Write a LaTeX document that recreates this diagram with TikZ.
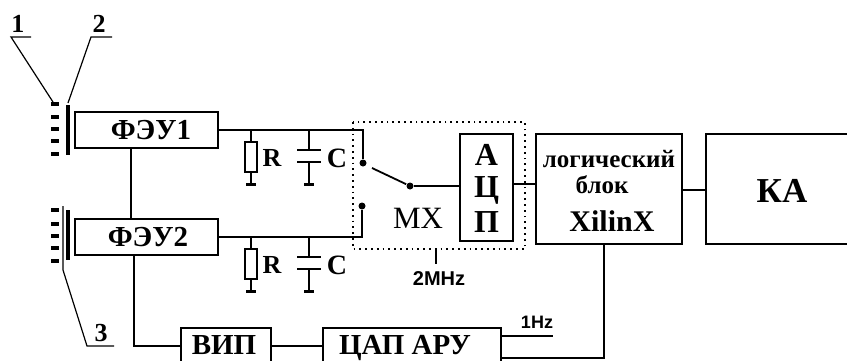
\documentclass[tikz,border=0pt]{standalone}
\usepackage{fontspec}
\setmainfont{Liberation Serif}
\newfontfamily\labelsans{Liberation Sans}
\usetikzlibrary{positioning}
\newcommand{\px}[1]{\fontsize{#1pt}{#1pt}\selectfont\bfseries}
\begin{document}
\begin{tikzpicture}
        [ x=1pt, y=-1pt, line width=1.5pt,
          box node/.style = {draw=black,inner sep=0pt,anchor=center},
          text node/.style = {inner sep=0pt,anchor=center},
          base node/.style = {inner sep=0pt,anchor=base},
          resistor node/.style = {draw=black,inner sep=0pt,minimum width=12pt,minimum height=30pt},
          contact/.style = {fill=black,circle,inner sep=0pt,minimum size=7pt},
          ground/.style = {line width=3pt},
          plate/.style = {line width=4pt},
          leader/.style = {line width=1.2pt},
          frame/.style = {line width=1.8pt,dash pattern=on 1.8pt off 4pt}]
        \useasboundingbox (0,0) rectangle (847,360);
        \clip (0,0) rectangle (847,360);

        % blocks
        \node[box node,minimum width=143pt,minimum height=36pt] (feu1) at (146.5,130) {};
        \node[box node,minimum width=143pt,minimum height=36pt] (feu2) at (146.5,237) {};
        \node[text node] at (151,130) {\px{29}ФЭУ1};
        \node[text node] at (148,237) {\px{29}ФЭУ2};
        \node[box node,minimum width=90pt,minimum height=40pt] (vip) at (226,348) {};
        \node[box node,minimum width=178pt,minimum height=40pt] (dac) at (412,348) {};
        \node[base node] at (224,354) {\px{29}ВИП};
        \node[base node] at (405,354) {\px{29}ЦАП АРУ};
        \node[box node,minimum width=53pt,minimum height=107pt] (adc) at (486.5,187.5) {};
        \node[base node] at (486.5,165) {\px{32}А};
        \node[base node] at (486.5,197) {\px{32}Ц};
        \node[base node] at (486.5,232) {\px{32}П};
        \node[box node,minimum width=146pt,minimum height=110pt] (logic) at (609,189) {};
        \node[text node] at (609,159) {\px{25}логический};
        \node[text node] at (602,185) {\px{25}блок};
        \node[text node] at (612,221) {\px{30}XilinX};
        \node[box node,minimum width=150pt,minimum height=110pt] (ka) at (781,189) {};
        \node[text node] at (782,191) {\px{35}КА};

        % multiplexer
        \draw[frame] (353,122) rectangle (525,249);
        \node[text node] (mx) at (418,218) {\fontsize{31pt}{31pt}\selectfont МХ};
        \node[contact] (in1) at (363,163) {};
        \node[contact] (in2) at (362,206) {};
        \node[contact] (sw) at (410,186) {};
        \coordinate (swfree) at (372,168);
        \draw[line width=1.8pt] (swfree) -- (sw);
        \draw (sw) -- (adc.west |- sw);
        \draw (feu1.east) -- (in1 |- feu1.east) -- (in1);
        \draw (feu2.east) -- (in2 |- feu2.east) -- (in2);
        \coordinate (clktop) at (436,250);
        \coordinate (clkend) at (436,264);
        \draw (clktop) -- (clkend);
        \node[text node] at (439,279) {\labelsans\fontsize{20pt}{20pt}\selectfont\bfseries 2MHz};

        % R and C
        \foreach \name/\wire/\off in {a/feu1/0,b/feu2/107}{
            \node[resistor node] (r\name) at (251,157+\off) {};
            \node[text node] at (272,158+\off) {\px{26}R};
            \node[text node] at (337,158+\off) {\px{28}C};
            \coordinate (rtop\name) at (251,130+\off);
            \coordinate (rend\name) at (251,184+\off);
            \coordinate (ctop\name) at (309,130+\off);
            \coordinate (cupper\name) at (309,150+\off);
            \coordinate (clower\name) at (309,162+\off);
            \coordinate (cend\name) at (309,184+\off);
            \draw (rtop\name) -- (r\name) -- (rend\name);
            \draw (ctop\name) -- (cupper\name);
            \draw (clower\name) -- (cend\name);
            \draw ([xshift=-12pt]cupper\name) -- ([xshift=12pt]cupper\name);
            \draw ([xshift=-12pt]clower\name) -- ([xshift=12pt]clower\name);
            \draw[ground] ([xshift=-5pt]rend\name) -- ([xshift=5pt]rend\name);
            \draw[ground] ([xshift=-5pt]cend\name) -- ([xshift=5pt]cend\name);
        }

        % links
        \draw (131,148) -- (131,219);
        \coordinate (vipin) at (134,346);
        \draw (134,255) -- (vipin) -- (vip.west |- vipin);
        \draw (vip.east |- vipin) -- (dac.west |- vipin);
        \draw (adc.east |- 0,184) -- (logic.west |- 0,184);
        \draw (logic.east |- 0,190) -- (ka.west |- 0,190);
        \coordinate (ctlfree) at (553,336);
        \draw (dac.east |- ctlfree) -- (ctlfree);
        \node[text node] at (537,322) {\labelsans\fontsize{18pt}{18pt}\selectfont\bfseries 1Hz};
        \coordinate (ctlturn) at (604,358);
        \draw (dac.east |- ctlturn) -- (ctlturn) -- (ctlturn |- logic.south);

        % photocathodes
        \draw[plate] (68,105) -- (68,155);
        \draw[plate] (68,210) -- (68,260);
        \foreach \ypos in {104,117,129,141,154,210,224,236,248,261}{
            \draw[line width=3.5pt] (51,\ypos) -- (59,\ypos);
        }

        % numbered labels
        \node[text node] (lab1) at (18,24) {\px{26}1};
        \node[text node] (lab2) at (99,24) {\px{26}2};
        \node[text node] (lab3) at (101,333) {\px{26}3};
        \coordinate (lead1) at (11,37);
        \coordinate (lead2) at (91,37);
        \coordinate (lead3) at (87,346);
        \draw[leader] (31,37) -- (lead1) -- (53,102);
        \draw[leader] (112,37) -- (lead2) -- (68,103);
        \draw[leader] (63,206) -- (63,270) -- (lead3) -- (114,346);
    \end{tikzpicture}
\end{document}
